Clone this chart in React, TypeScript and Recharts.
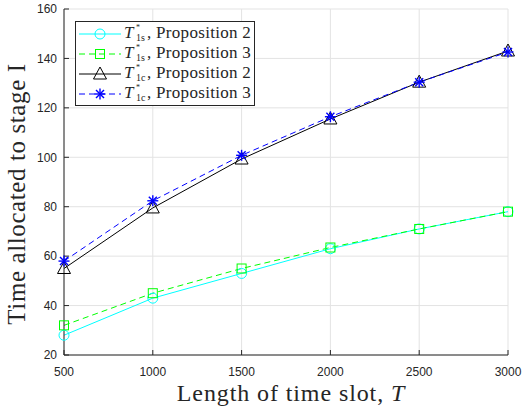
import React from 'react'
import { LineChart, Line, XAxis, YAxis, CartesianGrid } from 'recharts'

// values
const slotLengths = [500, 1000, 1500, 2000, 2500, 3000]
const t1sProp2 = [28, 43, 53, 63, 71, 78]
const t1sProp3 = [32, 45, 55, 63.5, 71, 78]
const t1cProp2 = [55, 79.5, 99.3, 115.5, 130.4, 143]
const t1cProp3 = [58, 82.4, 100.8, 116.4, 130.4, 142.6]
const yTicks = [20, 40, 60, 80, 100, 120, 140, 160]

const data = slotLengths.map((T, i) => ({
  T,
  s2: t1sProp2[i],
  s3: t1sProp3[i],
  c2: t1cProp2[i],
  c3: t1cProp3[i],
}))

const AXIS = '#262626'
const SERIF = '"Liberation Serif", "DejaVu Serif", serif'
const SANS = '"Liberation Sans", Arial, sans-serif'

const CYAN = '#00ffff'
const GREEN = '#00ff00'
const BLUE = '#0000ff'

// marker shapes
const Circle = ({ cx, cy, color }: any) => (
  <circle cx={cx} cy={cy} r={5} fill="none" stroke={color} strokeWidth={1} />
)
const Square = ({ cx, cy, color }: any) => (
  <rect x={cx - 4.5} y={cy - 4.5} width={9} height={9} fill="none" stroke={color} strokeWidth={1} />
)
const Triangle = ({ cx, cy, color }: any) => (
  <polygon
    points={`${cx},${cy - 7} ${cx - 6.5},${cy + 5} ${cx + 6.5},${cy + 5}`}
    fill="none"
    stroke={color}
    strokeWidth={1}
  />
)
const Star = ({ cx, cy, color }: any) => (
  <g stroke={color} strokeWidth={1.4}>
    <line x1={cx - 5.5} y1={cy} x2={cx + 5.5} y2={cy} />
    <line x1={cx} y1={cy - 5.5} x2={cx} y2={cy + 5.5} />
    <line x1={cx - 4} y1={cy - 4} x2={cx + 4} y2={cy + 4} />
    <line x1={cx - 4} y1={cy + 4} x2={cx + 4} y2={cy - 4} />
  </g>
)

const series = [
  { key: 's2', sub: '1s', prop: 2, color: CYAN, dash: undefined, Marker: Circle },
  { key: 's3', sub: '1s', prop: 3, color: GREEN, dash: '6 4', Marker: Square },
  { key: 'c2', sub: '1c', prop: 2, color: '#000000', dash: undefined, Marker: Triangle },
  { key: 'c3', sub: '1c', prop: 3, color: BLUE, dash: '6 4', Marker: Star },
]

const XLabel = () => (
  <text
    x={291}
    y={401}
    textAnchor="middle"
    fontFamily={SERIF}
    fontSize={24}
    letterSpacing={0.9}
    fill={AXIS}
  >
    Length of time slot, <tspan fontStyle="italic">T</tspan>
  </text>
)

const YLabel = () => (
  <text
    x={16}
    y={194}
    textAnchor="middle"
    fontFamily={SERIF}
    fontSize={25}
    letterSpacing={0.6}
    fill={AXIS}
    transform="rotate(-90 16 194)"
    dominantBaseline="central"
  >
    Time allocated to stage I
  </text>
)

function LegendBox() {
  return (
    <div
      style={{
        position: 'absolute',
        left: 75,
        top: 21,
        width: 178,
        height: 83,
        border: `1px solid ${AXIS}`,
        background: '#fff',
        fontFamily: SERIF,
        fontSize: 17,
        color: AXIS,
      }}
    >
      {series.map((s, i) => (
        <div key={s.key} style={{ position: 'absolute', left: 0, top: 2 + i * 20, width: 178, height: 20 }}>
          <svg width={46} height={20} style={{ position: 'absolute', left: 0, top: 0 }}>
            <line x1={3} y1={10} x2={45} y2={10} stroke={s.color} strokeWidth={1} strokeDasharray={s.dash} />
            <s.Marker cx={24} cy={10} color={s.color} />
          </svg>
          <span style={{ position: 'absolute', left: 48, top: 0, fontStyle: 'italic', lineHeight: '17px' }}>T</span>
          <span style={{ position: 'absolute', left: 60, top: 0, fontSize: 8, lineHeight: '8px' }}>*</span>
          <span style={{ position: 'absolute', left: 60, top: 9, fontSize: 10, lineHeight: '10px' }}>{s.sub}</span>
          <span
            style={{
              position: 'absolute',
              left: 71,
              top: 0,
              lineHeight: '17px',
              whiteSpace: 'nowrap',
              letterSpacing: 0.3,
            }}
          >
            , Proposition {s.prop}
          </span>
        </div>
      ))}
    </div>
  )
}

export default function App() {
  const tickStyle = { fontFamily: SANS, fontSize: 12, fill: AXIS }
  return (
    <div style={{ position: 'absolute', left: 0, top: 0, width: 527, height: 408, background: '#fff' }}>
      <LineChart width={527} height={408} data={data} margin={{ top: 9, right: 19, bottom: 0, left: 0 }}>
        <CartesianGrid stroke="#e3e3e3" strokeWidth={1} />
        <XAxis
          dataKey="T"
          type="number"
          domain={[500, 3000]}
          ticks={slotLengths}
          height={53}
          stroke={AXIS}
          tickSize={-5}
          tickMargin={17}
          tick={tickStyle}
          label={<XLabel />}
        />
        <XAxis
          xAxisId="top"
          orientation="top"
          dataKey="T"
          type="number"
          domain={[500, 3000]}
          ticks={slotLengths}
          height={0}
          stroke={AXIS}
          tickSize={-5}
          tickFormatter={() => ''}
        />
        <YAxis
          type="number"
          domain={[20, 160]}
          ticks={yTicks}
          width={64}
          stroke={AXIS}
          tickSize={-5}
          tickMargin={12}
          tick={tickStyle}
          label={<YLabel />}
        />
        <YAxis
          yAxisId="right"
          orientation="right"
          type="number"
          domain={[20, 160]}
          ticks={yTicks}
          width={0}
          stroke={AXIS}
          tickSize={-5}
          tickFormatter={() => ''}
        />
        {series.map((s) => (
          <Line
            key={s.key}
            dataKey={s.key}
            type="linear"
            stroke={s.color}
            strokeWidth={1}
            strokeDasharray={s.dash}
            isAnimationActive={false}
            dot={(p: any) => <s.Marker key={`${s.key}-${p.index}`} cx={p.cx} cy={p.cy} color={s.color} />}
            activeDot={false}
          />
        ))}
      </LineChart>
      <LegendBox />
    </div>
  )
}
